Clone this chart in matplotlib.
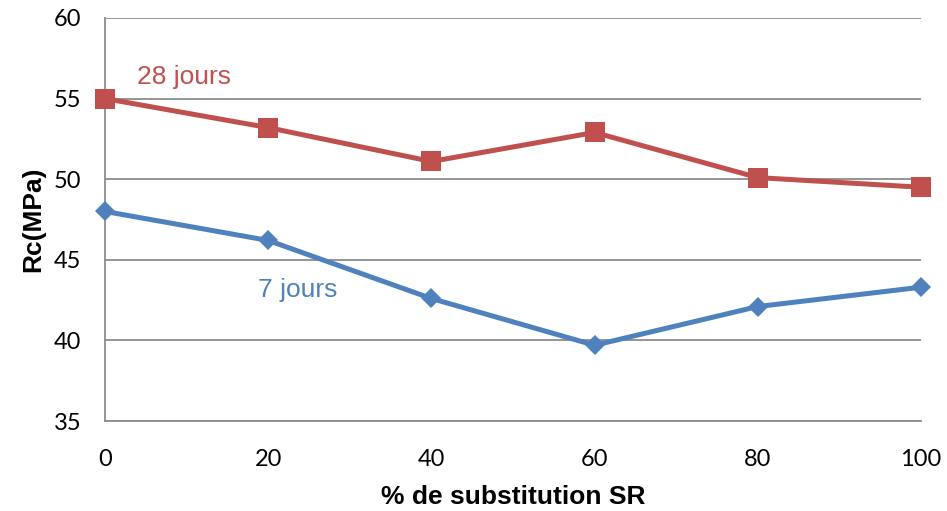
import numpy as np
import matplotlib.pyplot as plt

# Résistance à la compression selon le taux de substitution
substitution = [0, 20, 40, 60, 80, 100]
rc_7j = [48.0, 46.2, 42.6, 39.7, 42.1, 43.3]
rc_28j = [55.0, 53.2, 51.1, 52.9, 50.1, 49.5]

bleu = '#4F81BD'
rouge = '#C0504D'

plt.rcParams['font.family'] = ['Liberation Sans', 'DejaVu Sans']

fig = plt.figure(figsize=(9.47, 5.11), dpi=100)
ax = fig.add_axes([0.1109, 0.1761, 0.8616, 0.7887])

ax.plot(substitution, rc_7j, color=bleu, lw=3.6, marker='D', ms=10.4, mew=0,
        clip_on=False, zorder=3)
ax.plot(substitution, rc_28j, color=rouge, lw=3.6, marker='s', ms=14.4, mew=0,
        clip_on=False, zorder=3)

ax.text(3.9, 56.35, '28 jours', color=rouge, fontsize=19, va='center', ha='left')
ax.text(18.8, 43.15, '7 jours', color=bleu, fontsize=19, va='center', ha='left')

ax.set_xlim(0, 100)
ax.set_ylim(35, 60)
ax.set_xticks(substitution)
ax.set_yticks(np.arange(35, 61, 5))
ax.tick_params(length=0, labelsize=17)
ax.tick_params(axis='y', pad=17)
ax.tick_params(axis='x', pad=20)
for lab in ax.get_xticklabels() + ax.get_yticklabels():
    lab.set_family(['Lato', 'DejaVu Sans'])

ax.grid(axis='y', color='#8C8C8C', lw=1.3)
ax.set_axisbelow(True)
for s in ['top', 'right']:
    ax.spines[s].set_visible(False)
for s in ['left', 'bottom']:
    ax.spines[s].set_color('#8C8C8C')
    ax.spines[s].set_linewidth(1.3)

ax.set_xlabel('% de substitution SR', fontsize=19, fontweight='bold', labelpad=11)
ax.set_ylabel('Rc(MPa)', fontsize=19, fontweight='bold', labelpad=6)

fig.savefig('out.png', dpi=100)
